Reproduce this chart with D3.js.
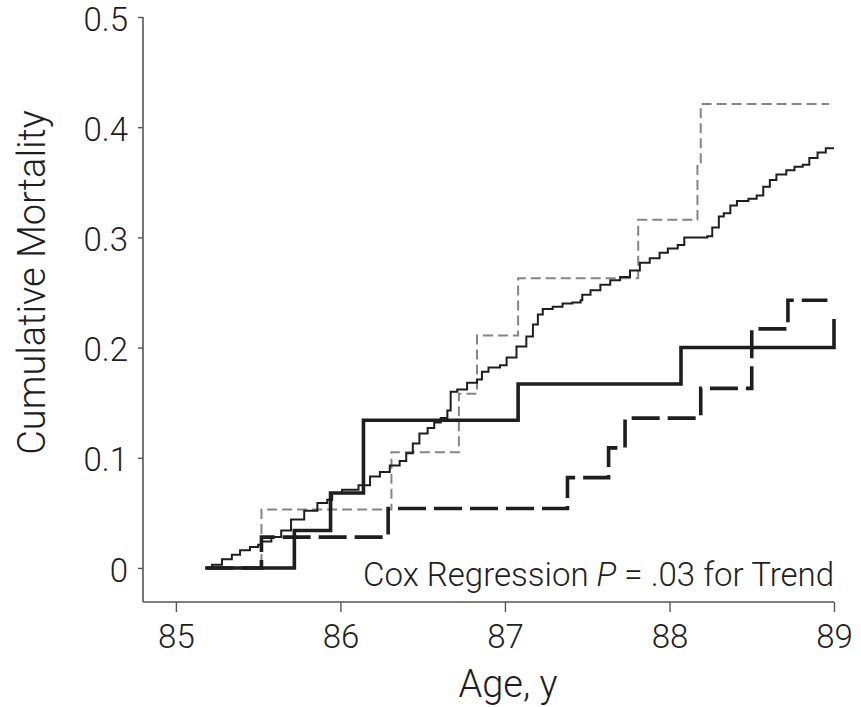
<!DOCTYPE html>
<html>
<head>
<meta charset="utf-8">
<script src="https://cdn.jsdelivr.net/npm/d3@7"></script>
<style>
  html, body { margin: 0; padding: 0; background: #fff; }
  svg { display: block; }
  text { font-family: Roboto, "Liberation Sans", Arial, sans-serif; font-weight: 300; fill: #1e1e1e; }
</style>
</head>
<body>
<script>
// ---- data ----
const xTicks = [85, 86, 87, 88, 89];
const yTicks = [0, 0.1, 0.2, 0.3, 0.4, 0.5];

// thin solid step curve
const thinAge = [
  85.18, 85.22, 85.28, 85.34, 85.39, 85.45, 85.50, 85.52, 85.58, 85.64,
  85.70, 85.78, 85.86, 85.92, 85.95, 86.01, 86.11, 86.18, 86.24, 86.30,
  86.36, 86.40, 86.44, 86.48, 86.53, 86.57, 86.61, 86.65, 86.67, 86.71,
  86.77, 86.83, 86.86, 86.90, 86.97, 87.01, 87.07, 87.13, 87.17, 87.20,
  87.23, 87.29, 87.35, 87.41, 87.46, 87.47, 87.52, 87.58, 87.64, 87.70,
  87.76, 87.82, 87.88, 87.94, 87.99, 88.05, 88.09, 88.23, 88.26, 88.30,
  88.33, 88.37, 88.41, 88.48, 88.53, 88.57, 88.61, 88.65, 88.71, 88.76,
  88.81, 88.85, 88.90, 88.95, 89.00
];
const thinRisk = [
  0.000, 0.003, 0.008, 0.012, 0.016, 0.019, 0.021, 0.024, 0.028, 0.034,
  0.044, 0.052, 0.059, 0.062, 0.068, 0.071, 0.075, 0.083, 0.087, 0.093,
  0.097, 0.104, 0.113, 0.122, 0.127, 0.132, 0.136, 0.143, 0.160, 0.162,
  0.168, 0.171, 0.178, 0.182, 0.184, 0.191, 0.201, 0.210, 0.221, 0.230,
  0.235, 0.237, 0.240, 0.241, 0.243, 0.248, 0.252, 0.257, 0.261, 0.264,
  0.270, 0.277, 0.281, 0.286, 0.290, 0.293, 0.300, 0.301, 0.309, 0.319,
  0.322, 0.329, 0.333, 0.335, 0.338, 0.346, 0.352, 0.357, 0.361, 0.364,
  0.366, 0.372, 0.377, 0.381, 0.381
];

// thin grey dashed step curve
const greyAge  = [85.18, 85.52, 86.31, 86.72, 86.83, 87.08, 87.81, 88.17, 88.19, 88.97];
const greyRisk = [0.000, 0.053, 0.105, 0.158, 0.211, 0.263, 0.316, 0.368, 0.421, 0.421];

// thick solid step curve
const thickAge  = [85.18, 85.72, 85.94, 86.14, 87.08, 88.07, 89.00];
const thickRisk = [0.000, 0.034, 0.068, 0.134, 0.167, 0.200, 0.226];

// thick dashed step curve
const thickDashAge  = [85.18, 85.52, 86.29, 87.38, 87.63, 87.73, 88.19, 88.50, 88.72, 88.96];
const thickDashRisk = [0.000, 0.028, 0.054, 0.082, 0.109, 0.136, 0.163, 0.217, 0.243, 0.243];

// ---- drawing ----
const W = 861, H = 707;
const svg = d3.select("body").append("svg").attr("width", W).attr("height", H);

const x = d3.scaleLinear().domain([84.8, 89]).range([143, 834]);
const y = d3.scaleLinear().domain([-0.0309, 0.5]).range([602, 17]);

const zip = (a, b) => a.map((v, i) => [v, b[i]]);
const line = d3.line().x(d => x(d[0])).y(d => y(d[1])).curve(d3.curveStepAfter);

// axes
const xAxis = d3.axisBottom(x).tickValues(xTicks).tickSize(10).tickPadding(13).tickFormat(d3.format("d"));
const yAxis = d3.axisLeft(y).tickValues(yTicks).tickSize(5).tickPadding(10)
  .tickFormat(d => d === 0 ? "0" : d3.format(".1f")(d));

const gx = svg.append("g").attr("transform", `translate(0,${y.range()[0]})`).call(xAxis);
const gy = svg.append("g").attr("transform", `translate(${x.range()[0]},0)`).call(yAxis);

[gx, gy].forEach(g => {
  g.select(".domain").attr("stroke", "#555").attr("stroke-width", 1.6);
  g.selectAll(".tick line").attr("stroke", "#555").attr("stroke-width", 1.4);
  g.selectAll(".tick text").style("font-family", "Roboto, 'Liberation Sans', Arial, sans-serif")
    .style("font-weight", 300).style("font-size", "33px").attr("fill", "#1e1e1e");
});
gy.selectAll(".tick text").attr("dy", "0.4em");
gx.select(".domain").attr("d", `M${x.range()[0]},0H${x.range()[1]}`);
gy.select(".domain").attr("d", `M0,${y.range()[1]}V${y.range()[0]}`);

// curves
svg.append("path").datum(zip(greyAge, greyRisk)).attr("d", line)
  .attr("fill", "none").attr("stroke", "#858585").attr("stroke-width", 2)
  .attr("stroke-dasharray", "10,5");

svg.append("path").datum(zip(thinAge, thinRisk)).attr("d", line)
  .attr("fill", "none").attr("stroke", "#1e1e1e").attr("stroke-width", 2);

svg.append("path").datum(zip(thickDashAge, thickDashRisk)).attr("d", line)
  .attr("fill", "none").attr("stroke", "#1e1e1e").attr("stroke-width", 3.6)
  .attr("stroke-dasharray", "28,8");

svg.append("path").datum(zip(thickAge, thickRisk)).attr("d", line)
  .attr("fill", "none").attr("stroke", "#1e1e1e").attr("stroke-width", 3.6);

// annotation
const ann = svg.append("text").attr("x", x(89)).attr("y", 586)
  .attr("text-anchor", "end").style("font-size", "33px");
ann.append("tspan").text("Cox Regression ");
ann.append("tspan").style("font-style", "italic").text("P");
ann.append("tspan").text(" = .03 for Trend");

// axis titles
svg.append("text").attr("x", 508).attr("y", 697).attr("text-anchor", "middle")
  .style("font-size", "38px").text("Age, y");

svg.append("text").attr("transform", `translate(45,${(110 + 455) / 2}) rotate(-90)`)
  .attr("text-anchor", "middle").style("font-size", "38px").text("Cumulative Mortality");
</script>
</body>
</html>
